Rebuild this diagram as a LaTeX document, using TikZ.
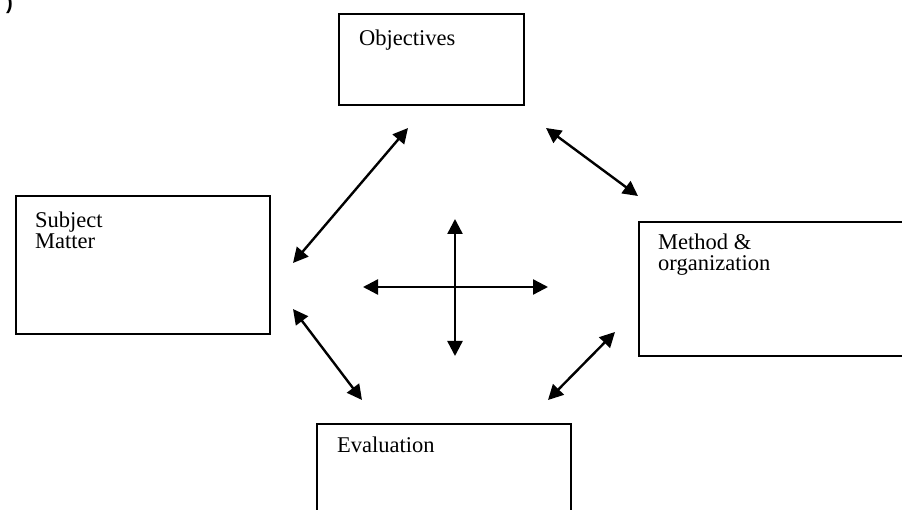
\documentclass[tikz,border=0pt]{standalone}
\usepackage{fontspec}
\setmainfont{Liberation Serif}
\newfontfamily\labelsans{Liberation Sans}
\usetikzlibrary{arrows.meta}
\begin{document}
\begin{tikzpicture}[x=1pt,y=-1pt,
  box/.style={draw, line width=2pt, rectangle, inner sep=0pt, anchor=north west},
  caption/.style={anchor=north west, inner sep=0pt, align=left,
                  font=\fontsize{22.5}{21}\selectfont},
  link/.style={line width=2.4pt,
               {Triangle[length=15pt,width=15pt]}-{Triangle[length=15pt,width=15pt]}}]
\useasboundingbox (0,0) rectangle (902,510);
\clip (0,0) rectangle (902,510);

% part marker, partly cut off at the top edge
\node[anchor=base west, inner sep=0pt, font=\labelsans\bfseries\fontsize{20}{20}\selectfont] (mark) at (6,10) {)};

% the four boxes
\node[box, minimum width=185pt, minimum height=91pt] (obj)  at (338,13)  {};
\node[box, minimum width=254pt, minimum height=138pt] (subj) at (15,195) {};
\node[box, minimum width=280pt, minimum height=134pt] (meth) at (638,221) {};
\node[box, minimum width=254pt, minimum height=110pt] (eval) at (316,423) {};

% box captions
\node[caption] (objt)  at (359,30)  {Objectives};
\node[caption] (subjt) at (35,212)  {Subject\\Matter};
\node[caption] (metht) at (658,234) {Method \&\\organization};
\node[caption] (evalt) at (337,437) {Evaluation};

% ends of the linking arrows
\coordinate (os1) at (408,128); \coordinate (os2) at (293,263);
\coordinate (om1) at (546,128); \coordinate (om2) at (638,196);
\coordinate (se1) at (293,309); \coordinate (se2) at (362,400);
\coordinate (me1) at (615,332); \coordinate (me2) at (548,400);

\draw[link] (os1) -- (os2);
\draw[link] (om1) -- (om2);
\draw[link] (se1) -- (se2);
\draw[link] (me1) -- (me2);

% central cross
\coordinate (cl) at (363,287); \coordinate (cr) at (548,287);
\coordinate (ct) at (455,219); \coordinate (cb) at (455,356);
\draw[link] (cl) -- (cr);
\draw[link] (ct) -- (cb);
\end{tikzpicture}
\end{document}
